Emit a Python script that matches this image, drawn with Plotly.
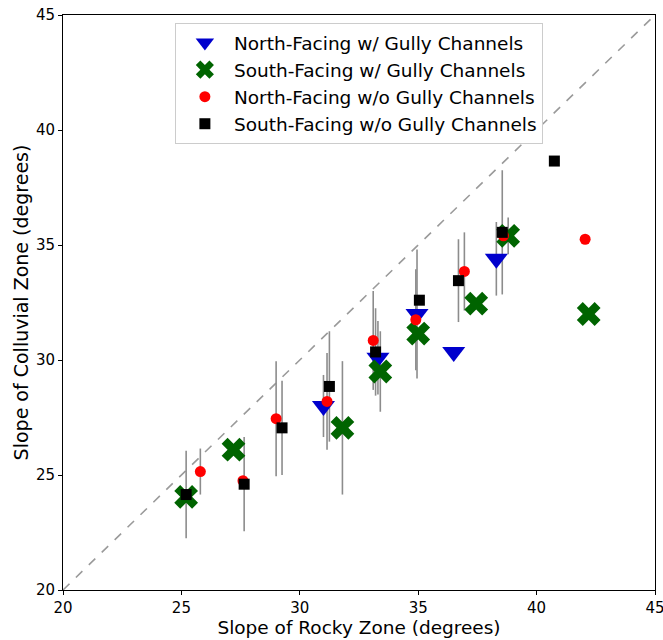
import plotly.graph_objects as go

# North-Facing w/ Gully Channels
ng_x = [31.0, 33.3, 34.95, 36.5, 38.3]
ng_y = [28.0, 30.1, 32.0, 30.35, 34.4]
ng_err = [1.35, 1.6, 2.8, 0.0, 1.6]

# South-Facing w/ Gully Channels
sg_x = [25.2, 27.2, 31.8, 33.4, 35.0, 37.45, 38.8, 42.2]
sg_y = [24.05, 26.1, 27.05, 29.5, 31.15, 32.45, 35.4, 32.0]
sg_err = [0.0, 0.0, 2.9, 1.75, 0.0, 0.0, 0.8, 0.0]

# North-Facing w/o Gully Channels
nn_x = [25.8, 27.6, 29.0, 31.15, 33.1, 34.9, 36.95, 38.6, 42.05]
nn_y = [25.15, 24.75, 27.45, 28.2, 30.85, 31.75, 33.85, 35.4, 35.25]
nn_err = [1.0, 0.0, 2.5, 2.1, 2.15, 2.2, 1.7, 0.0, 0.0]

# South-Facing w/o Gully Channels
sn_x = [25.2, 27.65, 29.25, 31.25, 33.2, 35.05, 36.7, 38.55, 40.75]
sn_y = [24.15, 24.6, 27.05, 28.85, 30.35, 32.6, 33.45, 35.55, 38.65]
sn_err = [1.9, 2.05, 2.05, 2.4, 1.9, 0.0, 1.8, 2.7, 0.0]

# 1:1 reference line
diag = [20, 45]

fig = go.Figure()

fig.add_trace(go.Scatter(x=diag, y=diag, mode="lines",
                         line=dict(color="#9a9a9a", width=1.6, dash="dash"),
                         showlegend=False, hoverinfo="skip"))

# error bars (drawn behind all markers)
for xs, ys, es in [(ng_x, ng_y, ng_err), (sg_x, sg_y, sg_err),
                   (nn_x, nn_y, nn_err), (sn_x, sn_y, sn_err)]:
    fig.add_trace(go.Scatter(x=xs, y=ys, mode="markers",
                             marker=dict(size=1, opacity=0),
                             error_y=dict(type="data", array=es, visible=True,
                                          color="#8c8c8c", thickness=1.6, width=0),
                             showlegend=False, hoverinfo="skip"))

fig.add_trace(go.Scatter(x=ng_x, y=ng_y, mode="markers",
                         name="North-Facing w/ Gully Channels",
                         marker=dict(symbol="triangle-down", size=20, color="#0000CD",
                                     line=dict(width=0))))
fig.add_trace(go.Scatter(x=sg_x, y=sg_y, mode="markers",
                         name="South-Facing w/ Gully Channels",
                         marker=dict(symbol="x", size=21, color="#006400",
                                     line=dict(width=0))))
fig.add_trace(go.Scatter(x=nn_x, y=nn_y, mode="markers",
                         name="North-Facing w/o Gully Channels",
                         marker=dict(symbol="circle", size=11, color="#FF0000",
                                     line=dict(width=0))))
fig.add_trace(go.Scatter(x=sn_x, y=sn_y, mode="markers",
                         name="South-Facing w/o Gully Channels",
                         marker=dict(symbol="square", size=11, color="#000000",
                                     line=dict(width=0))))

axis_common = dict(range=[20, 45], dtick=5, tick0=20, ticks="outside", ticklen=4,
                   tickwidth=1, tickcolor="black", showline=True, linecolor="black",
                   linewidth=1, mirror=True, showgrid=False, zeroline=False,
                   automargin=False, ticklabeloverflow="allow",
                   tickfont=dict(size=15, color="black"))

fig.update_layout(
    width=663, height=640,
    margin=dict(l=63, r=8, t=15, b=50, autoexpand=False),
    paper_bgcolor="white", plot_bgcolor="white",
    font=dict(family="DejaVu Sans", color="black"),
    xaxis=dict(title=dict(text="Slope of Rocky Zone (degrees)", font=dict(size=18.5),
                          standoff=0), **axis_common),
    yaxis=dict(title=dict(text="Slope of Colluvial Zone (degrees)", font=dict(size=19),
                          standoff=2), **axis_common),
    legend=dict(x=0.189, y=0.986, xanchor="left", yanchor="top",
                bgcolor="white", bordercolor="#cccccc", borderwidth=1,
                font=dict(size=18.5), tracegroupgap=0, itemsizing="trace",
                itemwidth=48),
    showlegend=True,
)

fig.write_html("out.html", config={"displayModeBar": False},
               post_script="document.body.style.margin='0';document.body.style.overflow='hidden';")
